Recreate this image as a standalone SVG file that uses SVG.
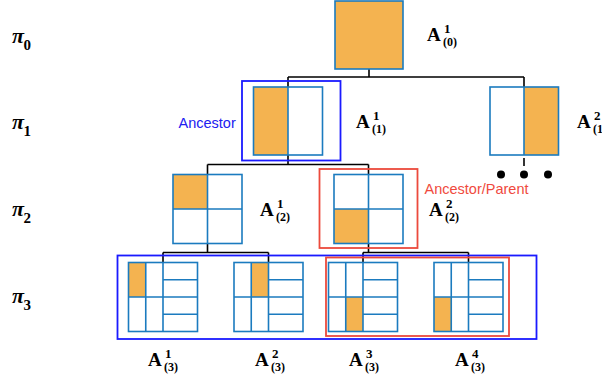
<svg xmlns="http://www.w3.org/2000/svg" width="602" height="379" viewBox="0 0 602 379">
<style>
.bg{fill:#fff}
.cell{fill:none;stroke:#1b7bbf;stroke-width:1.6}
.or{fill:#f4b350;stroke:none}
.conn{stroke:#000;stroke-width:1.6;fill:none}
.lbl{font-family:"Liberation Serif","Times New Roman",serif;font-weight:bold;fill:#000}
.pi{font-family:"Liberation Serif","Times New Roman",serif;font-weight:bold;font-style:italic;fill:#000}
.blue{fill:none;stroke:#1a1aff;stroke-width:1.8}
.red{fill:none;stroke:#ec4a3c;stroke-width:1.8}
.tblue{font-family:"Liberation Sans",Arial,sans-serif;font-size:14.5px;fill:#2020f0}
.tred{font-family:"Liberation Sans",Arial,sans-serif;font-size:14.5px;fill:#f04a3e}
</style>
<rect class="bg" x="0" y="0" width="602" height="379"/>

<g id="connectors">
<path class="conn" d="M369,69 V77 M288,77 H524 M288,77 V87 M524,77 V87"/>
<path class="conn" d="M288,155 V164.5 M207.5,164.5 H368.5 M207.5,164.5 V174.5 M368.5,164.5 V174.5"/>
<path class="conn" d="M524,158 V166"/>
<path class="conn" d="M207.5,243.5 V252.5 M163,252.5 H268.5 M163,252.5 V262.5 M268.5,252.5 V262.5"/>
<path class="conn" d="M368.5,243.5 V252.5 M363,252.5 H468.5 M363,252.5 V262.5 M468.5,252.5 V262.5"/>
<circle cx="501" cy="174.5" r="4" fill="#000"/>
<circle cx="524" cy="174.5" r="4" fill="#000"/>
<circle cx="548" cy="174.5" r="4" fill="#000"/>
</g>

<g id="row-labels">
<text class="pi" x="12" y="43" font-size="22">π</text><text class="lbl" x="23.5" y="50" font-size="15">0</text>
<text class="pi" x="12" y="129" font-size="22">π</text><text class="lbl" x="23.5" y="136" font-size="15">1</text>
<text class="pi" x="12" y="216" font-size="22">π</text><text class="lbl" x="23.5" y="223" font-size="15">2</text>
<text class="pi" x="12" y="303" font-size="22">π</text><text class="lbl" x="23.5" y="310" font-size="15">3</text>
</g>

<g id="node-A0-1">
<rect class="or" x="335" y="1" width="68" height="68"/>
<rect class="cell" x="335" y="1" width="68" height="68"/>
<text class="lbl" x="427" y="41" font-size="19">A</text>
<text class="lbl" x="444" y="33" font-size="13">1</text>
<text class="lbl" x="443" y="46" font-size="12">(0)</text>
</g>

<g id="node-A1-1">
<rect class="or" x="253.5" y="87" width="34.5" height="68"/>
<rect class="cell" x="253.5" y="87" width="69" height="68"/>
<path class="cell" d="M288,87 V155"/>
<text class="lbl" x="356" y="128" font-size="19">A</text>
<text class="lbl" x="373" y="120" font-size="13">1</text>
<text class="lbl" x="372" y="133" font-size="12">(1)</text>
</g>

<g id="node-A1-2">
<rect class="or" x="524" y="87" width="34.5" height="68"/>
<rect class="cell" x="490" y="87" width="68.5" height="68"/>
<path class="cell" d="M524,87 V155"/>
<text class="lbl" x="577" y="128" font-size="19">A</text>
<text class="lbl" x="594" y="120" font-size="13">2</text>
<text class="lbl" x="593" y="133" font-size="12">(1)</text>
</g>

<g id="ancestor-box">
<rect class="blue" x="242" y="81" width="98.5" height="79.5"/>
<text class="tblue" x="178.5" y="128">Ancestor</text>
</g>

<g id="node-A2-1">
<rect class="or" x="173" y="174.5" width="34.5" height="34.5"/>
<rect class="cell" x="173" y="174.5" width="69" height="69"/>
<path class="cell" d="M207.5,174.5 V243.5 M173,209 H242"/>
<text class="lbl" x="260" y="216" font-size="19">A</text>
<text class="lbl" x="277" y="208" font-size="13">1</text>
<text class="lbl" x="276" y="221" font-size="12">(2)</text>
</g>

<g id="node-A2-2">
<rect class="or" x="334" y="209" width="34.5" height="34.5"/>
<rect class="cell" x="334" y="174.5" width="69" height="69"/>
<path class="cell" d="M368.5,174.5 V243.5 M334,209 H403"/>
<text class="lbl" x="429" y="216" font-size="19">A</text>
<text class="lbl" x="446" y="208" font-size="13">2</text>
<text class="lbl" x="445" y="221" font-size="12">(2)</text>
</g>

<g id="parent-box">
<rect class="red" x="319.5" y="169" width="98" height="79"/>
<text class="tred" x="424.5" y="193.5">Ancestor/Parent</text>
</g>

<g id="node-A3-1">
<rect class="or" x="128.5" y="262.5" width="17.25" height="34.5"/>
<rect class="cell" x="128.5" y="262.5" width="69" height="69"/>
<path class="cell" d="M145.75,262.5 V331.5 M163,262.5 V331.5 M128.5,297 H197.5 M163,279.75 H197.5 M163,314.25 H197.5"/>
<text class="lbl" x="148" y="366" font-size="19">A</text>
<text class="lbl" x="165" y="358" font-size="13">1</text>
<text class="lbl" x="164" y="371" font-size="12">(3)</text>
</g>

<g id="node-A3-2">
<rect class="or" x="251.25" y="262.5" width="17.25" height="34.5"/>
<rect class="cell" x="234" y="262.5" width="69" height="69"/>
<path class="cell" d="M251.25,262.5 V331.5 M268.5,262.5 V331.5 M234,297 H303 M268.5,279.75 H303 M268.5,314.25 H303"/>
<text class="lbl" x="255" y="366" font-size="19">A</text>
<text class="lbl" x="272" y="358" font-size="13">2</text>
<text class="lbl" x="271" y="371" font-size="12">(3)</text>
</g>

<g id="node-A3-3">
<rect class="or" x="345.75" y="297" width="17.25" height="34.5"/>
<rect class="cell" x="328.5" y="262.5" width="69" height="69"/>
<path class="cell" d="M345.75,262.5 V331.5 M363,262.5 V331.5 M328.5,297 H397.5 M363,279.75 H397.5 M363,314.25 H397.5"/>
<text class="lbl" x="349" y="366" font-size="19">A</text>
<text class="lbl" x="366" y="358" font-size="13">3</text>
<text class="lbl" x="365" y="371" font-size="12">(3)</text>
</g>

<g id="node-A3-4">
<rect class="or" x="434" y="297" width="17.25" height="34.5"/>
<rect class="cell" x="434" y="262.5" width="69" height="69"/>
<path class="cell" d="M451.25,262.5 V331.5 M468.5,262.5 V331.5 M434,297 H503 M468.5,279.75 H503 M468.5,314.25 H503"/>
<text class="lbl" x="455" y="366" font-size="19">A</text>
<text class="lbl" x="472" y="358" font-size="13">4</text>
<text class="lbl" x="471" y="371" font-size="12">(3)</text>
</g>

<g id="group-boxes">
<rect class="blue" x="117.5" y="255.5" width="419" height="83.5"/>
<rect class="red" x="326" y="257.5" width="183" height="78.5"/>
</g>
</svg>
